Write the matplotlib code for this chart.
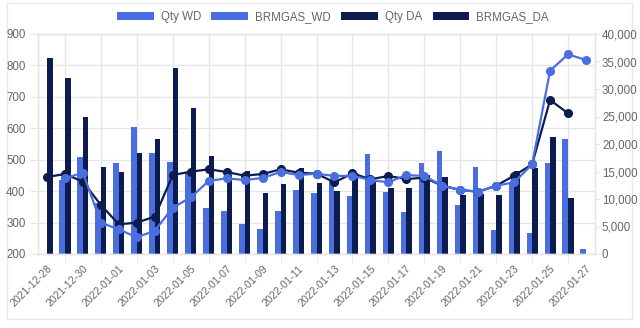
import matplotlib
matplotlib.use("Agg")
import matplotlib.pyplot as plt
import numpy as np
from matplotlib.patches import Patch, Rectangle
from matplotlib.ticker import FuncFormatter, MultipleLocator, FixedLocator
from matplotlib.transforms import ScaledTranslation

plt.rcParams["font.family"] = ["Liberation Sans", "DejaVu Sans"]

nan = np.nan
dates = ["2021-12-28", "2021-12-29", "2021-12-30", "2021-12-31", "2022-01-01",
         "2022-01-02", "2022-01-03", "2022-01-04", "2022-01-05", "2022-01-06",
         "2022-01-07", "2022-01-08", "2022-01-09", "2022-01-10", "2022-01-11",
         "2022-01-12", "2022-01-13", "2022-01-14", "2022-01-15", "2022-01-16",
         "2022-01-17", "2022-01-18", "2022-01-19", "2022-01-20", "2022-01-21",
         "2022-01-22", "2022-01-23", "2022-01-24", "2022-01-25", "2022-01-26",
         "2022-01-27"]

qty_wd = [nan, 435, 508, 361, 488, 603, 522, 494, 462, 347,
          338, 295, 278, 337, 404, 393, 438, 385, 517, 398,
          334, 488, 529, 356, 476, 276, 425, 266, 490, 565, 215]
qty_da = [823, 759, 637, 477, 462, 522, 565, 792, 665, 513,
          450, 465, 393, 422, 475, 427, 399, 457, 428, 411,
          411, 450, 446, 388, 390, 388, 464, 473, 571, 377, nan]
brm_wd = [nan, 13760, 14790, 5700, 4480, 3030, 4240, 8420, 10300, 13270,
          13760, 13450, 13820, 14910, 14360, 14600, 14180, 14240, 13450, 13030,
          14360, 14180, 12420, 11640, 11330, 12420, 13030, 16300, 33330, 36300, 35270]
brm_da = [14000, 14545, 13150, 8900, 5400, 5700, 6800, 14360, 14970, 15400,
          14910, 14240, 14545, 15390, 14790, 14600, 13030, 14670, 13580, 14180,
          13630, 13880, 12420, 11640, 11330, 12420, 14240, 16300, 28000, 25570, nan]

C_WD = "#4a6ee0"
C_DA = "#0d1c4f"
GRID = "#e6e6e6"
TXT = "#666666"
FS = 8.3

W, H = 640, 328
fig = plt.figure(figsize=(W / 100, H / 100), dpi=100)
fig.patch.set_facecolor("white")

# card border
card = Rectangle((7 / W, 9 / H), (632 - 7) / W, (325 - 9) / H,
                 transform=fig.transFigure, facecolor="none",
                 edgecolor="#e8e8e8", linewidth=1.0, zorder=-10)
fig.add_artist(card)

L, R, T, B = 38, 595, 34, 254
ax = fig.add_axes([L / W, (H - B) / H, (R - L) / W, (B - T) / H])
ax.set_facecolor("none")
ax2 = ax.twinx()

x = np.arange(len(dates))
bw = 0.31
ax.bar(x - bw / 2, qty_wd, width=bw, color=C_WD, zorder=2)
ax.bar(x + bw / 2, qty_da, width=bw, color=C_DA, zorder=2)

ax2.plot(x, brm_da, color=C_DA, lw=1.6, marker="o", ms=5.5, zorder=3)
ax2.plot(x, brm_wd, color=C_WD, lw=1.6, marker="o", ms=5.5, zorder=4)

ax.set_xlim(-0.5, len(dates) - 0.5)
ax.set_ylim(200, 900)
ax2.set_ylim(0, 40000)
ax.yaxis.set_major_locator(MultipleLocator(100))
ax2.yaxis.set_major_locator(MultipleLocator(5000))
ax2.yaxis.set_major_formatter(FuncFormatter(lambda v, p: f"{int(v):,}"))

ax.set_xticks(x[::2])
ax.set_xticklabels(dates[::2], rotation=45, ha="right", rotation_mode="anchor",
                   fontsize=7.6, color=TXT)
off = ScaledTranslation(6 / 100, 2 / 100, fig.dpi_scale_trans)
for lbl in ax.get_xticklabels():
    lbl.set_transform(lbl.get_transform() + off)
ax.xaxis.set_minor_locator(FixedLocator(x[1::2]))
ax.tick_params(axis="x", which="major", length=0, pad=7)
ax.tick_params(axis="x", which="minor", length=6, color=GRID)
ax.grid(axis="x", which="minor", color=GRID, lw=1, zorder=0)
ax.grid(axis="y", which="major", color=GRID, lw=1, zorder=0)
ax.set_axisbelow(True)

ax.tick_params(axis="y", length=6, color=GRID, labelsize=FS, labelcolor=TXT, pad=3)
ax2.tick_params(axis="y", length=3, color=GRID, labelsize=FS, labelcolor=TXT, pad=2)

for a in (ax, ax2):
    for s in a.spines.values():
        s.set_color(GRID)
        s.set_linewidth(1)

handles = [Patch(facecolor=C_WD, label="Qty WD"),
           Patch(facecolor=C_WD, label="BRMGAS_WD"),
           Patch(facecolor=C_DA, label="Qty DA"),
           Patch(facecolor=C_DA, label="BRMGAS_DA")]
leg = fig.legend(handles=handles, loc="center", bbox_to_anchor=(0.52, 1 - 17 / H),
                 ncol=4, frameon=False, fontsize=FS, handlelength=3.2,
                 handleheight=0.8, handletextpad=0.6, columnspacing=0.9)
for t in leg.get_texts():
    t.set_color(TXT)

fig.savefig("out.png", dpi=100, facecolor="white")
